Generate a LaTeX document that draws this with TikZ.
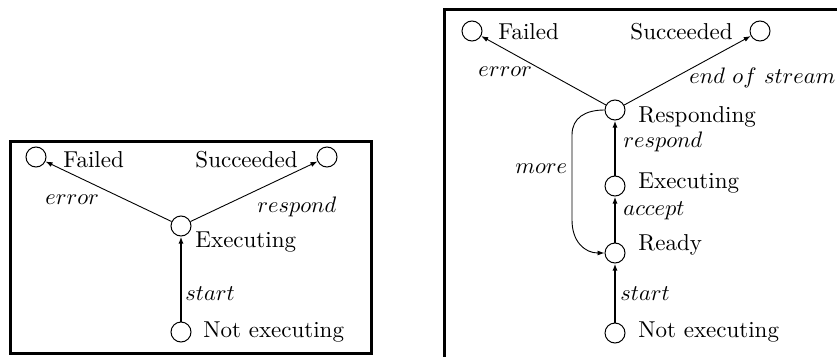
\documentclass[tikz,border=0pt]{standalone}
\usetikzlibrary{arrows.meta}
\begin{document}
\begin{tikzpicture}[x=1pt,y=-1pt,
  state/.style={circle,draw,line width=1pt,minimum size=20pt,inner sep=0pt},
  lbl/.style={inner sep=0pt,anchor=base west,font=\fontsize{10}{12}\selectfont,scale=2.3,transform shape},
  elbl/.style={inner sep=0pt,anchor=base west,font=\fontsize{10}{12}\selectfont,scale=2.24,transform shape},
  tipped/.style={-{Latex[length=7pt,width=5pt]}},
  thinarrow/.style={tipped,line width=0.9pt},
  thickarrow/.style={tipped,line width=2pt},
  frame/.style={line width=3pt}]
\clip (0,0) rectangle (837,356);
\draw[frame] (10,141) rectangle (371.5,353);
\draw[frame] (444,9) rectangle (870,390);
% left diagram
\node[state] (lf) at (36,157) {};
\node[state] (ls) at (327,157) {};
\node[state] (le) at (181,226) {};
\node[state] (ln) at (181,332) {};
\draw[thickarrow] (ln) -- (le);
\draw[thinarrow] (le) -- (lf);
\draw[thinarrow] (le) -- (ls);
\node[lbl] (lft) at (63,167) {Failed};
\node[lbl] (lst) at (195,167) {Succeeded};
\node[lbl] (let) at (195,247) {Executing};
\node[lbl] (lnt) at (203,337) {Not executing};
\node[elbl] (lerr) at (45,204) {$error$};
\node[elbl] (lres) at (257,212) {$respond$};
\node[elbl] (lsta) at (185,300) {$start$};
% right diagram
\node[state] (rf) at (472,31) {};
\node[state] (rs) at (760,31) {};
\node[state] (rr) at (615,110) {};
\node[state] (re) at (615,186) {};
\node[state] (ry) at (615,253) {};
\node[state] (rn) at (615,333) {};
\draw[thickarrow] (rn) -- (ry);
\draw[thickarrow] (ry) -- (re);
\draw[thickarrow] (re) -- (rr);
\draw[thinarrow] (rr) -- (rf);
\draw[thinarrow] (rr) -- (rs);
\draw[thinarrow] (rr.west) .. controls (585,110) and (572,118) .. (572,135) -- (572,220) .. controls (572,242) and (585,253) .. (ry.west);
\node[lbl] (rft) at (498,39) {Failed};
\node[lbl] (rst) at (630,39) {Succeeded};
\node[elbl] (rerr) at (478,76) {$error$};
\node[elbl] (reos) at (689,83) {$end\ of\ stream$};
\node[lbl] (rrt) at (638,122) {Responding};
\node[elbl] (rres) at (623,147) {$respond$};
\node[elbl] (rmore) at (515,173) {$more$};
\node[lbl] (ret) at (638,188) {Executing};
\node[elbl] (racc) at (623,215) {$accept$};
\node[lbl] (ryt) at (638,250) {Ready};
\node[elbl] (rsta) at (620,300) {$start$};
\node[lbl] (rnt) at (638,337) {Not executing};
\end{tikzpicture}
\end{document}
